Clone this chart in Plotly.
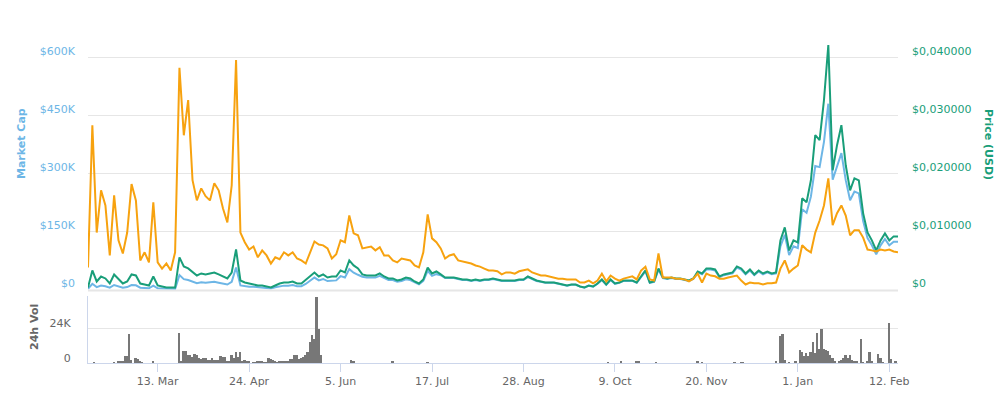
import pandas as pd
import plotly.graph_objects as go

# ---------------- data ----------------
start_date = "2017-02-09"
n_points = 187  # one reading every 2 days
dates = pd.date_range(start_date, periods=n_points, freq="2D")

# Market cap, thousands of USD
market_cap_k = [
    1.6, 14.7, 6.2, 10.1, 8.5, 4.7, 11.6, 7.8, 4.7, 6.2,
    11.6, 10.9, 4.7, 3.9, 3.1, 10.1, 3.1, 2.3, 1.6, 1.6,
    1.6, 37.2, 26.8, 24.4, 19.8, 16.3, 18.6, 17.5, 18.6, 19.8,
    17.5, 15.1, 12.8, 19.8, 56.9, 10.5, 8.1, 7.0, 7.1, 5.7,
    5.7, 4.3, 2.8, 5.7, 8.5, 10.0, 10.0, 11.4, 8.5, 8.5,
    14.2, 23.5, 30.8, 23.5, 27.2, 21.7, 23.5, 23.5, 34.4, 30.8,
    52.5, 43.4, 38.0, 33.0, 30.8, 30.8, 30.8, 35.2, 28.6, 24.2,
    24.2, 19.8, 22.0, 26.4, 24.2, 17.6, 13.2, 22.0, 48.4, 35.2,
    39.6, 36.9, 29.5, 29.5, 29.5, 27.0, 24.6, 24.6, 22.1, 24.6,
    22.1, 24.6, 24.6, 27.0, 24.6, 22.1, 22.1, 22.1, 22.1, 24.6,
    24.6,
    31.9, 27.0, 22.1, 19.7, 17.2, 17.2, 17.2, 14.7, 12.3, 9.8,
    12.3, 12.3, 7.4, 4.9, 9.8, 7.4, 14.7, 24.6, 12.3, 24.6,
    14.7, 17.2, 22.1, 22.1, 22.1, 17.2, 31.9, 46.7, 17.2, 19.7,
    51.6, 29.5, 27.0, 29.5, 27.0, 27.0, 24.6, 22.1, 27.0, 44.2,
    39.3, 51.6, 51.6, 49.1, 31.9, 36.9, 39.3, 41.8, 56.5, 51.6,
    39.3, 49.1, 36.9, 46.7, 39.3, 44.2, 39.3, 41.8, 111.5, 141.1,
    88.8, 111.5, 107.0, 207.1, 198.0, 239.6, 318.6, 315.9, 381.2, 479.5,
    283.1, 316.5, 352.0, 282.2, 230.4, 252.6, 248.1, 176.9, 132.6, 114.0,
    90.8, 114.0, 130.3, 114.0, 123.3, 123.3,
]

# Price in USD
price_usd = [
    0.00034, 0.00328, 0.00138, 0.00224, 0.00190, 0.00103, 0.00259, 0.00172, 0.00103, 0.00138,
    0.00259, 0.00241, 0.00103, 0.00086, 0.00069, 0.00224, 0.00069, 0.00052, 0.00034, 0.00034,
    0.00034, 0.00552, 0.00397, 0.00362, 0.00293, 0.00241, 0.00276, 0.00259, 0.00276, 0.00293,
    0.00259, 0.00224, 0.00190, 0.00293, 0.00690, 0.00155, 0.00121, 0.00103, 0.00086, 0.00069,
    0.00069, 0.00052, 0.00034, 0.00069, 0.00103, 0.00121, 0.00121, 0.00138, 0.00103, 0.00103,
    0.00172, 0.00224, 0.00293, 0.00224, 0.00259, 0.00207, 0.00224, 0.00224, 0.00328, 0.00293,
    0.00500, 0.00414, 0.00362, 0.00259, 0.00241, 0.00241, 0.00241, 0.00276, 0.00224, 0.00190,
    0.00190, 0.00155, 0.00172, 0.00207, 0.00190, 0.00138, 0.00103, 0.00172, 0.00379, 0.00276,
    0.00310, 0.00259, 0.00207, 0.00207, 0.00207, 0.00190, 0.00172, 0.00172, 0.00155, 0.00172,
    0.00155, 0.00172, 0.00172, 0.00190, 0.00172, 0.00155, 0.00155, 0.00155, 0.00155, 0.00172,
    0.00172,
    0.00224, 0.00190, 0.00155, 0.00138, 0.00121, 0.00121, 0.00121, 0.00103, 0.00086, 0.00069,
    0.00086, 0.00086, 0.00052, 0.00034, 0.00069, 0.00052, 0.00103, 0.00172, 0.00086, 0.00172,
    0.00103, 0.00121, 0.00155, 0.00155, 0.00155, 0.00121, 0.00224, 0.00328, 0.00121, 0.00138,
    0.00362, 0.00207, 0.00190, 0.00207, 0.00190, 0.00190, 0.00172, 0.00155, 0.00190, 0.00310,
    0.00276, 0.00362, 0.00362, 0.00345, 0.00224, 0.00259, 0.00276, 0.00293, 0.00397, 0.00362,
    0.00276, 0.00345, 0.00259, 0.00328, 0.00276, 0.00310, 0.00276, 0.00293, 0.00845, 0.01069,
    0.00672, 0.00845, 0.00810, 0.01569, 0.01500, 0.01879, 0.02655, 0.02569, 0.03258, 0.04207,
    0.02052, 0.02483, 0.02827, 0.02138, 0.01707, 0.01914, 0.01879, 0.01310, 0.00983, 0.00845,
    0.00672, 0.00845, 0.00965, 0.00845, 0.00914, 0.00914,
]

# Price in BTC (satoshi)
price_btc_sat = [
    57, 424, 147, 256, 217, 88, 243, 127, 93, 147,
    272, 230, 75, 96, 70, 225, 70, 54, 67, 49,
    96, 572, 398, 489, 282, 230, 261, 241, 230, 274,
    256, 209, 173, 269, 592, 147, 122, 103, 111, 83,
    101, 88, 67, 83, 78, 96, 88, 96, 80, 75,
    67, 96, 124, 116, 114, 106, 80, 91, 127, 122,
    191, 145, 140, 106, 109, 111, 101, 109, 88, 88,
    75, 70, 80, 78, 75, 62, 57, 96, 194, 132,
    122, 106, 80, 88, 91, 75, 72, 70, 67, 62,
    59, 54, 49, 49, 47, 39, 44, 44, 41, 47,
    50,
    52, 44, 39, 36, 36, 34, 31, 28, 28, 26,
    26, 26, 18, 18, 23, 16, 23, 41, 21, 36,
    28, 23, 28, 31, 34, 26, 49, 59, 26, 23,
    93, 31, 31, 31, 28, 28, 26, 21, 28, 41,
    18, 41, 36, 34, 28, 28, 31, 34, 36, 23,
    13, 18, 16, 16, 13, 16, 16, 18, 54, 75,
    44, 54, 62, 114, 103, 96, 147, 178, 217, 287,
    166, 197, 217, 191, 140, 153, 153, 134, 103, 101,
    98, 103, 101, 103, 98, 96,
]

# 24h volume, thousands of USD (days with visible volume)
vol_dates = [
    "2017-02-12", "2017-02-21", "2017-02-23", "2017-02-24", "2017-02-25", "2017-02-26",
    "2017-02-27", "2017-02-28", "2017-03-01", "2017-03-03", "2017-03-04", "2017-03-05",
    "2017-03-06", "2017-03-11", "2017-03-23", "2017-03-24", "2017-03-25", "2017-03-26",
    "2017-03-27", "2017-03-28", "2017-03-29", "2017-03-30", "2017-03-31", "2017-04-01",
    "2017-04-02", "2017-04-03", "2017-04-04", "2017-04-05", "2017-04-06", "2017-04-07",
    "2017-04-08", "2017-04-09", "2017-04-10", "2017-04-11", "2017-04-12", "2017-04-13",
    "2017-04-14", "2017-04-15", "2017-04-16", "2017-04-17", "2017-04-18", "2017-04-19",
    "2017-04-20", "2017-04-21", "2017-04-22", "2017-04-23", "2017-04-24", "2017-04-26",
    "2017-04-27", "2017-04-28", "2017-04-29", "2017-04-30", "2017-05-01", "2017-05-02",
    "2017-05-03", "2017-05-04", "2017-05-05", "2017-05-06", "2017-05-07", "2017-05-08",
    "2017-05-09", "2017-05-10", "2017-05-11", "2017-05-12", "2017-05-13", "2017-05-14",
    "2017-05-15", "2017-05-16", "2017-05-17", "2017-05-18", "2017-05-19", "2017-05-20",
    "2017-05-21", "2017-05-22", "2017-05-23", "2017-05-24", "2017-05-25", "2017-05-26",
    "2017-05-27", "2017-06-10", "2017-06-11", "2017-06-29", "2017-07-15", "2017-10-06",
    "2017-10-12", "2017-10-19", "2017-10-20", "2017-10-28", "2017-11-16", "2017-11-18",
    "2017-12-03", "2017-12-06", "2017-12-07", "2017-12-22", "2017-12-24", "2017-12-25",
    "2017-12-26", "2017-12-28", "2017-12-31", "2018-01-02", "2018-01-03", "2018-01-04",
    "2018-01-05", "2018-01-06", "2018-01-07", "2018-01-08", "2018-01-09", "2018-01-10",
    "2018-01-11", "2018-01-12", "2018-01-13", "2018-01-14", "2018-01-15", "2018-01-16",
    "2018-01-17", "2018-01-18", "2018-01-20", "2018-01-21", "2018-01-22", "2018-01-23",
    "2018-01-24", "2018-01-25", "2018-01-26", "2018-01-27", "2018-01-28", "2018-01-30",
    "2018-01-31", "2018-02-02", "2018-02-03", "2018-02-04", "2018-02-07", "2018-02-08",
    "2018-02-09", "2018-02-12", "2018-02-13", "2018-02-15",
]
vol_k = [
    0.5, 0.2, 1.2, 1.6, 1.2, 4.8,
    4.8, 20.1, 2.0, 3.2, 2.5, 1.0,
    0.5, 0.7, 20.8, 1.4, 8.3, 8.3,
    5.5, 5.5, 3.9, 6.2, 5.5, 3.2,
    2.8, 3.2, 3.2, 2.1, 2.1, 3.2,
    2.1, 2.1, 2.1, 4.8, 4.4, 3.9,
    1.6, 0.9, 5.3, 3.2, 7.4, 4.4,
    7.4, 1.4, 2.1, 0.9, 0.7, 0.5,
    0.2, 0.9, 1.4, 1.2, 0.2, 0.5,
    3.5, 2.8, 2.1, 0.7, 0.2, 1.6,
    1.6, 1.6, 1.6, 1.6, 2.8, 2.5,
    5.5, 5.5, 2.8, 3.5, 4.2, 5.5,
    7.8, 14.3, 19.4, 16.4, 45.9, 23.3,
    5.5, 2.1, 0.9, 0.7, 0.3, 0.4,
    1.5, 0.7, 0.7, 0.5, 1.5, 0.5,
    0.5, 0.5, 0.5, 1.0, 18.7, 19.9,
    2.3, 0.5, 1.6, 9.1, 7.5, 4.6,
    7.0, 4.6, 7.5, 14.2, 6.6, 20.6,
    9.6, 23.3, 9.6, 9.1, 8.5, 5.7,
    3.4, 1.6, 1.0, 2.3, 3.2, 5.7,
    3.4, 5.7, 2.3, 1.0, 1.0, 16.5,
    0.5, 1.6, 7.8, 1.6, 6.2, 3.4,
    0.5, 27.9, 3.0, 0.7,
]

x_tick_dates = ["2017-03-13", "2017-04-24", "2017-06-05", "2017-07-17", "2017-08-28",
                "2017-10-09", "2017-11-20", "2018-01-01", "2018-02-12"]
x_tick_labels = ["13. Mar", "24. Apr", "5. Jun", "17. Jul", "28. Aug",
                 "9. Oct", "20. Nov", "1. Jan", "12. Feb"]
mcap_ticks = [0, 150, 300, 450, 600]
mcap_tick_labels = ["$0", "$150K", "$300K", "$450K", "$600K"]
price_ticks = [0, 0.01, 0.02, 0.03, 0.04]
price_tick_labels = ["$0", "$0,010000", "$0,020000", "$0,030000", "$0,040000"]
vol_ticks = [0, 24]
vol_tick_labels = ["0", "24K"]

# ---------------- style ----------------
FONT = "DejaVu Sans"
BLUE = "#6db6e6"
GREEN = "#199e79"
ORANGE = "#f7a20f"
GREY_TXT = "#666666"
GRID = "#e6e6e6"
AXLINE = "#ccd6eb"

W, H = 1005, 398
L, R, T, B = 88, 107, 40, 35
plot_h = H - T - B
plot_w = W - L - R
main_bottom = (H - B - 289.5) / plot_h
vol_top = (H - B - 296) / plot_h

fig = go.Figure()

fig.add_trace(go.Scatter(x=dates, y=market_cap_k, mode="lines", name="Market Cap",
                         line=dict(color=BLUE, width=2), xaxis="x", yaxis="y"))
fig.add_trace(go.Scatter(x=dates, y=price_usd, mode="lines", name="Price (USD)",
                         line=dict(color=GREEN, width=2), xaxis="x", yaxis="y2"))
fig.add_trace(go.Scatter(x=dates, y=price_btc_sat, mode="lines", name="Price (BTC)",
                         line=dict(color=ORANGE, width=2), xaxis="x", yaxis="y3"))
fig.add_trace(go.Bar(x=pd.to_datetime(vol_dates), y=vol_k, name="24h Vol",
                     marker=dict(color="#777777", line=dict(width=0)),
                     width=0.85 * 86400000, xaxis="x", yaxis="y4"))

tick_font = dict(family=FONT, size=11)

fig.update_layout(
    width=W, height=H,
    margin=dict(l=L, r=R, t=T, b=B, pad=0, autoexpand=False),
    paper_bgcolor="white", plot_bgcolor="white",
    showlegend=False,
    bargap=0,
    xaxis=dict(
        domain=[0, 1], anchor="y4", automargin=False,
        range=["2017-02-09", "2018-02-16"],
        tickvals=x_tick_dates, ticktext=x_tick_labels,
        tickfont=dict(family=FONT, size=11, color=GREY_TXT),
        ticks="outside", ticklen=8, tickcolor=AXLINE, tickwidth=1,
        showline=True, linecolor=AXLINE, linewidth=1,
        showgrid=False, zeroline=False,
    ),
    yaxis=dict(
        domain=[main_bottom, 1], anchor="x", automargin=False,
        range=[0, 249 * 600 / 232],
        tickvals=mcap_ticks, ticktext=mcap_tick_labels,
        tickfont=dict(tick_font, color=BLUE),
        ticks="", ticklabelstandoff=12, ticklabelshift=-6,
        showgrid=True, gridcolor=GRID, gridwidth=1,
        zeroline=False, showline=False,
    ),
    yaxis2=dict(
        overlaying="y", side="right", anchor="x", automargin=False,
        range=[0, 249 * 0.04 / 232],
        tickvals=price_ticks, ticktext=price_tick_labels,
        tickfont=dict(tick_font, color=GREEN),
        ticks="", ticklabelstandoff=13, ticklabelshift=-6,
        showgrid=False, zeroline=False, showline=False,
    ),
    yaxis3=dict(
        overlaying="y", anchor="x", visible=False,
        range=[0, 249 * 600 / 232],
    ),
    yaxis4=dict(
        domain=[0, vol_top], anchor="x", automargin=False,
        range=[0, 67 * 24 / 34.7],
        tickvals=vol_ticks, ticktext=vol_tick_labels,
        tickfont=dict(tick_font, color=GREY_TXT),
        ticks="", ticklabelstandoff=14, ticklabelshift=-5,
        showgrid=True, gridcolor=GRID, gridwidth=1,
        zeroline=False, showline=True, linecolor=AXLINE, linewidth=1,
    ),
)

# bottom border of the price panel
fig.add_shape(type="line", xref="paper", yref="paper",
              x0=0, x1=1, y0=(H - B - 290.5) / plot_h, y1=(H - B - 290.5) / plot_h,
              line=dict(color=GRID, width=2), layer="below")

def px_x(px):
    return (px - L) / plot_w

def px_y(py):
    return (H - B - py) / plot_h

title_font = dict(family=FONT, size=11)
fig.add_annotation(text="<b>Market Cap</b>", xref="paper", yref="paper",
                   x=px_x(21), y=px_y(144), textangle=-90, showarrow=False,
                   font=dict(title_font, color=BLUE), xanchor="center", yanchor="middle")
fig.add_annotation(text="<b>Price (USD)</b>", xref="paper", yref="paper",
                   x=px_x(988.5), y=px_y(144.5), textangle=90, showarrow=False,
                   font=dict(title_font, color=GREEN), xanchor="center", yanchor="middle")
fig.add_annotation(text="<b>24h Vol</b>", xref="paper", yref="paper",
                   x=px_x(34), y=px_y(327), textangle=-90, showarrow=False,
                   font=dict(title_font, color=GREY_TXT), xanchor="center", yanchor="middle")

fig.write_html(
    "out.html",
    config={"displayModeBar": False},
    post_script="document.body.style.margin='0';document.body.style.overflow='hidden';",
)
